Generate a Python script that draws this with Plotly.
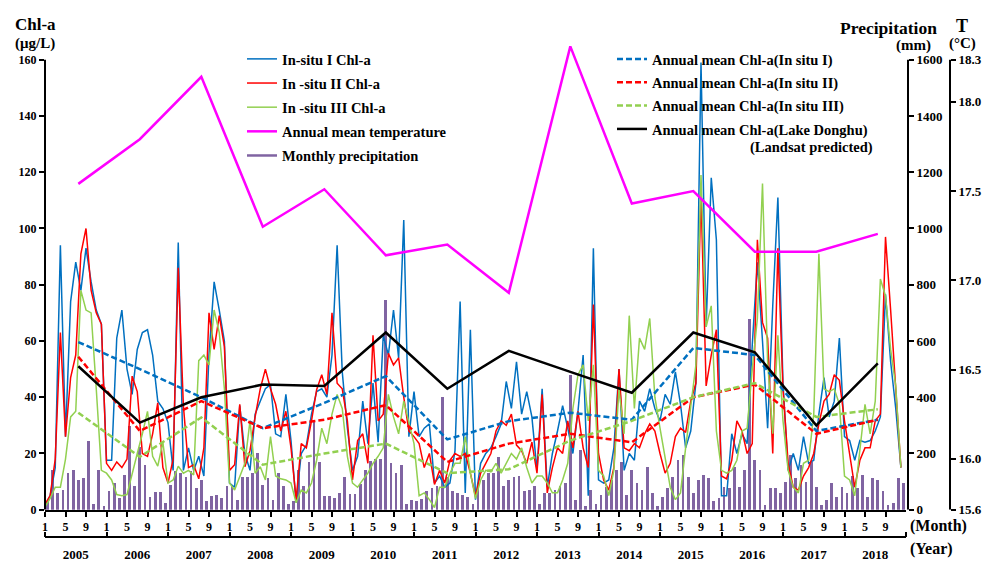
import plotly.graph_objects as go

# ---------------- data ----------------
years = list(range(2005, 2019))
year_labels = [str(y) for y in years]
month_tick_labels = ["1", "5", "9"]

insitu1 = [
    1, 5, 15, 94, 26, 74, 88, 78, 93, 81, 71, 66,
    17.6, 17.6, 61, 71, 50, 41, 57, 63, 64, 55, 38.6, 36,
    31, 14, 95, 14, 22, 14, 19, 12, 55, 81, 71, 60,
    9.5, 8, 37, 20, 14, 34, 38.6, 43, 44.5, 27, 26, 41,
    24.6, 2.5, 20, 23, 34, 42, 43, 40, 55, 94, 49, 29,
    14, 19, 38.6, 23.5, 45, 24, 62, 55, 71, 54, 103, 26,
    42, 26, 29, 30.5, 9.5, 12, 8, 9.5, 21, 74, 6, 64,
    3.6, 16.5, 20, 22, 26, 30.5, 45.6, 36, 52.6, 34, 42, 33,
    14, 43, 8, 20, 28, 37, 29, 20, 35, 55, 5, 93,
    10.6, 9.5, 10.6, 22, 50, 14, 20, 17.6, 38.6, 35, 43, 36,
    31.6, 41, 37.5, 49, 37.5, 22, 28, 45, 159, 65, 118, 96,
    5, 5, 27, 20, 27, 23.5, 58.5, 88, 60, 29, 72.5, 111,
    45, 14, 20, 14, 26, 16.5, 17.6, 34, 47, 33, 38.6, 61,
    26, 24.6, 17.6, 24.6, 24, 24.6, 28, 33, 76.6, 52.6, 36, 15,
]
insitu2 = [
    2, 5, 18, 63, 26, 47, 55, 91, 100, 78, 70, 66,
    16.5, 14, 17, 15, 18, 47.5, 42, 20, 19, 27, 38, 15,
    9.5, 18, 86, 37, 15, 16, 11, 22, 70, 57, 69, 58,
    14, 16, 37.5, 15.3, 21, 33, 43, 50, 43, 37.5, 28, 35,
    22, 3.6, 23.5, 22, 31.6, 42.7, 48, 41, 70, 45, 43, 31.6,
    10.6, 24.6, 27, 16.5, 62, 31.6, 34, 55.6, 51.5, 54, 40, 28,
    26, 23.5, 15, 20, 9, 14, 9.5, 17.6, 20, 19, 20, 13,
    4.8, 13, 16.5, 20, 28, 31.6, 30, 34, 23, 21, 16.5, 24,
    13, 41, 6, 15, 22, 20, 31.6, 22, 35, 22, 15, 73,
    20, 10.6, 7, 15, 50, 22, 21, 23.5, 22, 27, 30.5, 28,
    20, 13, 16.5, 26, 29, 27.5, 38.6, 45, 112, 44, 55, 64,
    12, 11, 17.6, 31.6, 28, 20, 23.5, 96, 66.6, 61, 20, 93,
    43, 16.5, 8, 7, 12, 15, 20, 30.5, 38.6, 41, 48, 46,
    31.6, 19, 8, 17.6, 22, 22, 31.6, 34, 97, 71, 41, 15,
]
insitu3 = [
    1, 4, 8, 8, 18, 33, 35, 78, 71, 70, 43, 14,
    13, 10.6, 5.4, 5, 5.4, 13, 20, 27, 35, 19, 15.5, 24,
    9.5, 10.6, 15.5, 13, 14, 12.4, 53, 55, 51.5, 71, 63, 43,
    9.5, 7, 12, 16.5, 31.6, 13, 15.3, 10.6, 26, 12, 11, 10.6,
    9.5, 2.5, 7, 6, 9.5, 17.6, 29, 23.5, 34, 41, 36, 19,
    9.5, 8, 10.6, 13, 16.5, 19, 22, 41, 33, 27, 38.6, 30.5,
    23.5, 5, 6, 3.6, 0.8, 8, 8, 13, 16.5, 16.5, 26, 13,
    4, 10.6, 14, 13.5, 16.5, 13, 16.5, 20, 18, 22, 15, 9.5,
    12, 12, 9.5, 6, 6, 10.6, 16.5, 36, 48, 51.5, 31.6, 51.5,
    14, 12, 5, 14, 43, 27, 69, 36, 61, 57, 68, 40,
    29, 19, 8, 3.6, 6, 22, 36, 51.5, 119, 65, 72.5, 28,
    14, 13, 14, 17.6, 28, 29, 50, 68, 116, 52.6, 27, 62,
    31.6, 14, 8, 6, 16.5, 17.6, 34, 91, 43, 42, 43, 37.5,
    12, 10.6, 5, 22, 37.5, 27, 38.6, 82, 76, 57, 44, 15,
]
precip = [
    30, 141, 60, 71, 130, 141, 106, 112, 246, 19, 141, 13,
    66, 95, 42, 124, 299, 83, 223, 159, 46, 62, 62, 25,
    89, 136, 130, 118, 136, 77, 106, 31, 48, 54, 42, 83,
    89, 36, 118, 118, 130, 200, 89, 112, 36, 130, 83, 19,
    30, 141, 83, 170, 316, 170, 48, 48, 40, 60, 115, 55,
    55, 90, 140, 175, 182, 180, 746, 165, 130, 159, 19, 34,
    31, 39, 66, 77, 85, 400, 118, 66, 60, 54, 46, 19,
    95, 106, 130, 130, 188, 83, 106, 118, 120, 66, 71, 83,
    19, 60, 60, 71, 83, 95, 480, 36, 211, 13, 71, 22,
    54, 80, 106, 141, 171, 53, 141, 94, 71, 152, 60, 12,
    47, 77, 118, 176, 193, 118, 59, 106, 123, 112, 30, 41,
    82, 77, 152, 82, 141, 678, 176, 141, 18, 77, 77, 59,
    100, 193, 112, 158, 100, 170, 82, 18, 35, 94, 47, 82,
    60, 120, 77, 123, 47, 112, 106, 65, 18, 24, 112, 94,
]
annual_mean_temp = [17.54, 17.79, 18.14, 17.30, 17.51, 17.14, 17.20,
                    16.93, 18.31, 17.43, 17.50, 17.16, 17.16, 17.26]
annual_chl_1 = [59.6, 50, 40, 29, 38, 47.5, 25, 31.5, 34.5, 32, 57.5, 55, 28, 32]
annual_chl_2 = [54.4, 28, 38.6, 29, 32, 37.2, 17, 23.5, 27, 24, 40, 44.5, 27, 32]
annual_chl_3 = [34.5, 18.8, 32.8, 16, 20, 23.5, 13, 14.4, 24.6, 31.6, 40, 45, 33, 35.7]
annual_chl_landsat = [51, 31, 40, 44.5, 44, 63, 43, 56.5, 49, 41.6, 63, 56, 30, 52]

chl_ticks = list(range(0, 161, 20))
precip_ticks = list(range(0, 1601, 200))
temp_tick_labels = ["15.6", "16.0", "16.5", "17.0", "17.5", "18.0", "18.3"]

# ---------------- geometry helpers (layout only) ----------------
W, H = 982, 566
ML, MT = 45, 40
PW, PH = W - ML, H - MT

def px_x(X):
    return (X - ML) / PW

def px_y(Y):
    return (H - Y) / PH

n_months = len(insitu1)
months = list(range(n_months))
bar_x = [m + 0.5 for m in months]
year_mid = [12 * i + 6.5 for i in range(len(years))]

BOTTOM, TOP160, PLOT_TOP = 517, 60, 40
chl_top = (BOTTOM - PLOT_TOP) * 160 / (BOTTOM - TOP160)
px_per_deg = 181.3
y18 = 102.7
T_bottom = 18.0 - (BOTTOM - y18) / px_per_deg
T_top = 18.0 + (y18 - PLOT_TOP) / px_per_deg
T_label_top = 18.0 + (y18 - TOP160) / px_per_deg
temp_tickvals = [T_bottom, 16.0, 16.5, 17.0, 17.5, 18.0, T_label_top]

FONT = "Liberation Serif"
BLUE, RED, GREEN = "#0070C0", "#FF0000", "#92D050"
MAGENTA, PURPLE = "#FF00FF", "#8064A2"

def f(size):
    return dict(family=FONT, size=size, color="black", weight="bold")

fig = go.Figure()

fig.add_trace(go.Bar(x=bar_x, y=precip, xaxis="x", yaxis="y", width=0.55,
                     marker=dict(color=PURPLE, line=dict(width=0)),
                     showlegend=False, name="Monthly precipitation"))

for name, ser, col, grp in [("In-situ I Chl-a", insitu1, BLUE, "g1"),
                            ("In -situ II Chl-a", insitu2, RED, "g2"),
                            ("In -situ III Chl-a", insitu3, GREEN, "g3")]:
    fig.add_trace(go.Scatter(x=months, y=ser, xaxis="x", yaxis="y2", mode="lines",
                             line=dict(color=col, width=1.5), name=name,
                             legend="legend", legendgroup=grp))

fig.add_trace(go.Scatter(x=year_mid, y=annual_mean_temp, xaxis="x2", yaxis="y3",
                         mode="lines", line=dict(color=MAGENTA, width=2.5),
                         name="Annual mean temperature", legend="legend", legendgroup="g4"))
fig.add_trace(go.Scatter(x=[None], y=[None], xaxis="x", yaxis="y", mode="lines",
                         line=dict(color=PURPLE, width=2.5),
                         name="Monthly precipitation", legend="legend", legendgroup="g5"))

for name, ser, col, grp in [("Annual mean Chl-a(In situ I)", annual_chl_1, BLUE, "h1"),
                            ("Annual mean Chl-a(In situ II)", annual_chl_2, RED, "h2"),
                            ("Annual mean Chl-a(In situ III)", annual_chl_3, GREEN, "h3")]:
    fig.add_trace(go.Scatter(x=year_mid, y=ser, xaxis="x", yaxis="y2", mode="lines",
                             line=dict(color=col, width=2.5, dash="6px,3px"), name=name,
                             legend="legend2", legendgroup=grp))
fig.add_trace(go.Scatter(x=year_mid, y=annual_chl_landsat, xaxis="x", yaxis="y2",
                         mode="lines", line=dict(color="black", width=2.5),
                         name="Annual mean Chl-a(Lake Donghu)", legend="legend2",
                         legendgroup="h4"))

xd = px_x(906)
yd0 = px_y(BOTTOM)

fig.update_layout(
    width=W, height=H,
    margin=dict(l=ML, r=0, t=MT, b=0, pad=0),
    paper_bgcolor="white", plot_bgcolor="white",
    font=f(12),
    bargap=0,
    xaxis=dict(domain=[0, xd], range=[0, n_months], anchor="y",
               showline=True, linecolor="black", linewidth=2,
               ticks="outside", ticklen=5, tickwidth=1.5, tickcolor="black",
               tickmode="array", tickvals=list(range(0, n_months, 4)),
               ticktext=month_tick_labels * len(years),
               tickfont=f(12), showgrid=False, zeroline=False),
    xaxis2=dict(domain=[0, xd], range=[0, n_months], overlaying="x",
                anchor="free", position=px_y(545), side="bottom",
                showline=True, linecolor="black", linewidth=1.5,
                ticks="", tickmode="array", tickvals=[12 * i + 6 for i in range(len(years))],
                ticktext=year_labels, tickfont=f(13), ticklabelstandoff=5,
                minor=dict(ticks="inside", ticklen=5, tickwidth=1.5, tickcolor="black",
                           tickmode="array", tickvals=list(range(0, n_months + 1, 12)),
                           showgrid=False),
                showgrid=False, zeroline=False),
    yaxis=dict(domain=[yd0, 1], range=[0, chl_top * 10], side="right",
               anchor="free", position=px_x(908),
               tickmode="array", tickvals=precip_ticks,
               ticks="outside", ticklen=5, tickwidth=1.5, tickcolor="black",
               tickfont=f(13), showline=False, showgrid=False, zeroline=False),
    yaxis2=dict(overlaying="y", side="left", anchor="x", range=[0, chl_top],
                tickmode="array", tickvals=chl_ticks,
                ticks="outside", ticklen=5, tickwidth=1.5, tickcolor="black",
                tickfont=f(12), showline=False, showgrid=False, zeroline=False),
    yaxis3=dict(overlaying="y", side="right", anchor="free", position=px_x(950),
                range=[T_bottom - 1e-6, T_top], tickmode="array",
                tickvals=temp_tickvals, ticktext=temp_tick_labels,
                ticks="outside", ticklen=5, tickwidth=1.5, tickcolor="black",
                tickfont=f(13), showline=False, showgrid=False, zeroline=False),
    legend=dict(x=px_x(242), y=px_y(43), xanchor="left", yanchor="top",
                bgcolor="rgba(0,0,0,0)", font=f(14.5), traceorder="grouped",
                tracegroupgap=2.3, itemwidth=30),
    legend2=dict(x=px_x(612), y=px_y(43), xanchor="left", yanchor="top",
                 bgcolor="rgba(0,0,0,0)", font=f(14.5), traceorder="grouped",
                 tracegroupgap=1.5, itemwidth=30),
    showlegend=True,
    hovermode=False,
)

# vertical axis lines
fig.add_shape(type="line", xref="paper", yref="y2", x0=0, x1=0, y0=0, y1=160,
              line=dict(color="black", width=2))
fig.add_shape(type="line", xref="paper", yref="y", x0=px_x(908), x1=px_x(908),
              y0=0, y1=1600, line=dict(color="black", width=2))
fig.add_shape(type="line", xref="paper", yref="y3", x0=px_x(950), x1=px_x(950),
              y0=T_bottom, y1=T_label_top, line=dict(color="black", width=2))

def ann(text, X, Y, size, xanchor="left"):
    fig.add_annotation(text=text, x=px_x(X), y=px_y(Y), xref="paper", yref="paper",
                       xanchor=xanchor, yanchor="middle", showarrow=False, font=f(size))

ann("Chl-a", 13, 24, 17)
ann("(μg/L)", 13, 44, 15)
ann("Precipitation", 939, 28, 17.5, "right")
ann("(mm)", 933, 46, 15, "right")
ann("T", 962, 26, 18, "center")
ann("(°C)", 962, 44, 15, "center")
ann("(Month)", 908, 534, 16)
ann("(Year)", 908, 557, 16)
ann("(Landsat predicted)", 875, 149, 14.5, "right")

fig.write_html("out.html", config={"displayModeBar": False},
               post_script="document.body.style.margin='0';document.body.style.padding='0';")
